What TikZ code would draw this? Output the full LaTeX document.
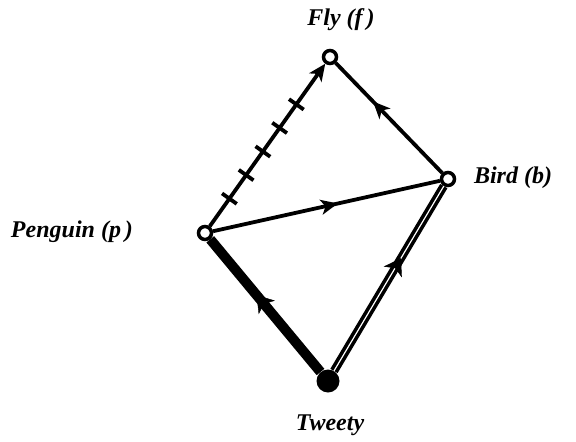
\documentclass[tikz,border=0pt]{standalone}
\usepackage{fontspec}
\setmainfont{Liberation Serif}
\usetikzlibrary{arrows.meta,decorations.markings}
\begin{document}
\begin{tikzpicture}[x=1pt,y=-1pt,
  state/.style={circle,draw,fill=white,line width=3.5pt,minimum size=13pt,inner sep=0pt},
  tweetynode/.style={circle,fill=black,minimum size=23pt,inner sep=0pt},
  lbl/.style={font=\fontsize{24}{29}\selectfont\bfseries\itshape,inner sep=0pt},
  edge/.style={line width=3.8pt},
  tickmark/.style={-,line width=3.8pt},
  midarrow/.style={postaction={decorate},decoration={markings,mark=at position #1 with {\arrow{Stealth[length=17pt 0 0,width=15pt 0 0,inset=4.5pt]}}}},
  bigmidarrow/.style={postaction={decorate},decoration={markings,mark=at position #1 with {\arrow{Stealth[length=16pt 0 0,width=21pt 0 0,inset=4.5pt]}}}},
  ticks/.style={postaction={decorate},decoration={markings,
    mark=at position 0.17 with {\draw[tickmark] (0pt,-9pt) -- (0pt,9pt);},
    mark=at position 0.315 with {\draw[tickmark] (0pt,-9pt) -- (0pt,9pt);},
    mark=at position 0.46 with {\draw[tickmark] (0pt,-9pt) -- (0pt,9pt);},
    mark=at position 0.605 with {\draw[tickmark] (0pt,-9pt) -- (0pt,9pt);},
    mark=at position 0.75 with {\draw[tickmark] (0pt,-9pt) -- (0pt,9pt);}}}
]
\useasboundingbox (0,0) rectangle (576,442);
\node[state] (f) at (330,57) {};
\node[state] (b) at (448,179) {};
\node[state] (p) at (205,233) {};
\node[tweetynode] (t) at (328,381) {};
\node[lbl] (lf) at (341,20) {Fly (f\,)};
\node[lbl] (lb) at (513,178) {Bird (b)};
\node[lbl] (lp) at (72,232) {Penguin (p\,)};
\node[lbl] (lt) at (330,425) {Tweety};
% Penguin -> Fly (negative link with ticks)
\draw[edge,ticks,-{Stealth[length=17pt 0 0,width=15pt 0 0,inset=4.5pt]}] (p) -- (f);
% Bird -> Fly
\draw[edge,midarrow=0.65] (b) -- (f);
% Penguin -> Bird
\draw[edge,midarrow=0.55] (p) -- (b);
% Tweety -> Penguin (thick)
\draw[line width=10pt] (t) -- (p);
\path[bigmidarrow=0.58] (t) -- (p);
% Tweety -> Bird (double)
\draw[line width=3.6pt,double=white,double distance=1.2pt] (t) -- (b);
\path[bigmidarrow=0.61] (t) -- (b);
\end{tikzpicture}
\end{document}
